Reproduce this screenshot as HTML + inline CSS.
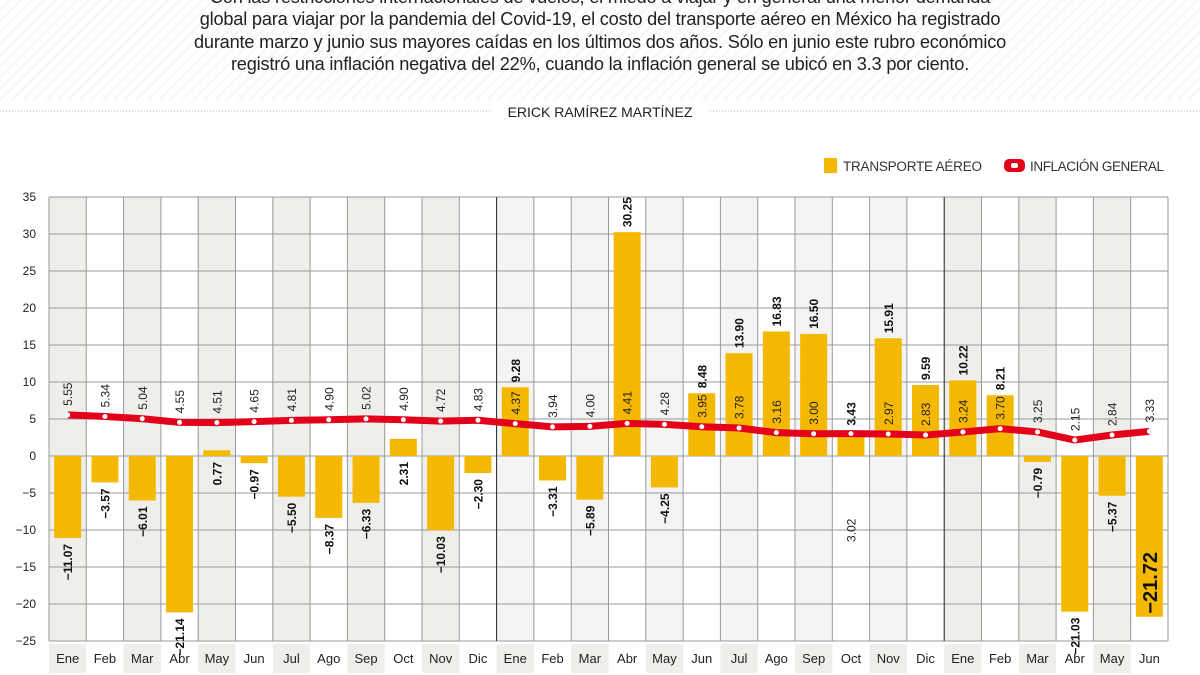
<!DOCTYPE html>
<html><head><meta charset="utf-8">
<style>
body{margin:0;width:1200px;height:675px;overflow:hidden;background:#fff;font-family:"Liberation Sans",sans-serif;}
.hdr{position:absolute;left:0;top:0;width:1200px;height:100px;background:repeating-linear-gradient(135deg,#fff 0 6px,#f6f6f6 6px 8px);}
.t{position:absolute;left:0;width:1200px;text-align:center;font-size:18.2px;color:#222;letter-spacing:-0.2px}
</style></head><body>
<div class="hdr"></div>
<div class="t" style="top:-13px">Con las restricciones internacionales de vuelos, el miedo a viajar y en general una menor demanda</div>
<div class="t" style="top:9px">global para viajar por la pandemia del Covid-19, el costo del transporte aéreo en México ha registrado</div>
<div class="t" style="top:32px">durante marzo y junio sus mayores caídas en los últimos dos años. Sólo en junio este rubro económico</div>
<div class="t" style="top:54px">registró una inflación negativa del 22%, cuando la inflación general se ubicó en 3.3 por ciento.</div>
<svg id="s" width="1200" height="675" style="position:absolute;left:0;top:0" font-family="Liberation Sans, sans-serif"></svg>
<script>
const T=[-11.07,-3.57,-6.01,-21.14,0.77,-0.97,-5.50,-8.37,-6.33,2.31,-10.03,-2.30,9.28,-3.31,-5.89,30.25,-4.25,8.48,13.90,16.83,16.50,3.43,15.91,9.59,10.22,8.21,-0.79,-21.03,-5.37,-21.72];
const I=[5.55,5.34,5.04,4.55,4.51,4.65,4.81,4.90,5.02,4.90,4.72,4.83,4.37,3.94,4.00,4.41,4.28,3.95,3.78,3.16,3.00,3.02,2.97,2.83,3.24,3.70,3.25,2.15,2.84,3.33];
const M=["Ene","Feb","Mar","Abr","May","Jun","Jul","Ago","Sep","Oct","Nov","Dic"];
const L=49,W=37.3,Y=v=>456-v*7.4;
let h='';
h+=`<line x1="0" y1="111" x2="490" y2="111" stroke="#bbb" stroke-dasharray="1 2"/><line x1="710" y1="111" x2="1200" y2="111" stroke="#bbb" stroke-dasharray="1 2"/>`;
h+=`<text x="600" y="117" text-anchor="middle" font-size="14" fill="#222">ERICK RAMÍREZ MARTÍNEZ</text>`;
h+=`<rect x="824" y="158" width="13" height="15" fill="#f5b800"/><text x="843" y="171" font-size="13.5" fill="#333" textLength="139">TRANSPORTE AÉREO</text>`;
h+=`<rect x="1004" y="159" width="21" height="13" rx="5" fill="#e3001b"/><rect x="1011" y="163" width="7" height="5" rx="2" fill="#fff"/><text x="1030" y="171" font-size="13.5" fill="#333" textLength="134">INFLACIÓN GENERAL</text>`;
for(let i=0;i<30;i++){const x=L+i*W;if(i%2==0){const c=(i>=12&&i<24)?'#f4f4f2':'#eeeeeb';h+=`<rect x="${x}" y="197" width="${W}" height="444" fill="${c}"/><rect x="${x}" y="644" width="${W}" height="29" fill="#eeeeeb"/>`;}}
for(let v=-25;v<=35;v+=5){h+=`<line x1="${L}" x2="1168" y1="${Y(v)}" y2="${Y(v)}" stroke="#999" stroke-width="1"/><text x="36" y="${Y(v)+4}" text-anchor="end" font-size="12" fill="#222">${v<0?'−'+(-v):v}</text>`;}
for(let i=0;i<=30;i++){const x=L+i*W;const k=(i==12||i==24);h+=`<line x1="${x}" x2="${x}" y1="197" y2="641" stroke="${k?'#222':'#999'}" stroke-width="1"/>`;}
for(let i=0;i<30;i++){const cx=L+i*W+W/2,v=T[i];const y0=Y(Math.max(v,0)),y1=Y(Math.min(v,0));
h+=`<rect x="${cx-13.5}" y="${y0}" width="27" height="${y1-y0}" fill="#f5b800"/>`;
h+=`<text x="${cx}" y="663" text-anchor="middle" font-size="13" fill="#222">${M[i%12]}</text>`;}
let p='';for(let i=0;i<30;i++){const cx=L+i*W+W/2;p+=(i?' L':'M')+cx+' '+Y(I[i]);}
h+=`<path d="${p}" fill="none" stroke="#e3001b" stroke-width="7" stroke-linejoin="round"/>`;
for(let i=0;i<30;i++){const cx=L+i*W+W/2;h+=`<circle cx="${cx}" cy="${Y(I[i])}" r="2.5" fill="#fff"/>`;}
const f=v=>(v<0?'−':'')+Math.abs(v).toFixed(2);
for(let i=0;i<30;i++){const cx=L+i*W+W/2+4.5,v=T[i];let y,a;
 if(i==29){h+=`<text transform="translate(${cx+3},${Y(-21.72)-3}) rotate(-90)" text-anchor="start" font-size="20" font-weight="bold" fill="#111">${f(v)}</text>`;}
 else{
 if(v>=3){y=Y(v)-5;a='start';}else if(v>0){y=Y(0)+6;a='end';}else{y=Y(v)+6;a='end';}
 h+=`<text transform="translate(${cx},${y}) rotate(-90)" text-anchor="${a}" font-size="12" font-weight="bold" fill="#111">${f(v)}</text>`;}
 let iy=Y(I[i])-9;if(i==21){iy=Y(0)+86;}
 h+=`<text transform="translate(${cx},${iy}) rotate(-90)" text-anchor="start" font-size="12" fill="#222">${I[i].toFixed(2)}</text>`;}
document.getElementById('s').innerHTML=h;
</script>
</body></html>
